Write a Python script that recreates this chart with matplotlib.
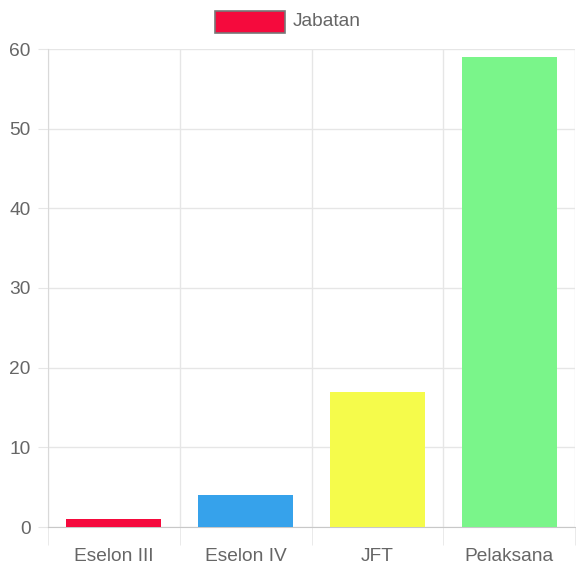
import matplotlib.pyplot as plt
from matplotlib.patches import Rectangle

plt.rcParams['font.family'] = ['Liberation Sans', 'DejaVu Sans']

categories = ['Eselon III', 'Eselon IV', 'JFT', 'Pelaksana']
values = [1, 4, 17, 59]
colors = ['#f50a3d', '#36a2eb', '#f5fb4b', '#7af58a']
yticks = [0, 10, 20, 30, 40, 50, 60]
series_label = 'Jabatan'

grid_c = '#e6e6e6'
text_c = '#666666'
fs = 13.8

fig = plt.figure(figsize=(5.76, 5.64), dpi=100)
ax = fig.add_axes([48/576, 1-527/564, 527/576, (527-49)/564])

x = range(len(categories))
ax.bar(x, values, width=0.72, color=colors, zorder=3)

ax.set_xlim(-0.5, len(categories) - 0.5)
ax.set_ylim(0, 60)
ax.set_yticks(yticks)
ax.set_xticks(list(x))
ax.set_xticklabels(categories)
ax.set_xticks([i - 0.5 for i in range(len(categories) + 1)], minor=True)

ax.grid(axis='y', color=grid_c, lw=1, zorder=0)
ax.grid(axis='x', which='minor', color=grid_c, lw=1, zorder=0)

ax.tick_params(axis='y', length=7.5, color=grid_c, labelcolor=text_c,
               labelsize=fs, pad=5)
ax.tick_params(axis='x', which='major', length=0, labelcolor=text_c,
               labelsize=fs, pad=15)
ax.tick_params(axis='x', which='minor', length=13, color=grid_c)

for s in ['top', 'right']:
    ax.spines[s].set_visible(False)
ax.spines['left'].set_color('#d9d9d9')
ax.spines['bottom'].set_color('#c8c8c8')

# legend drawn like the chart.js header
fig.patches.append(Rectangle((215/576, 1-33/564), 70/576, 22/564,
                             transform=fig.transFigure, facecolor=colors[0],
                             edgecolor='#777777', lw=1.2))
fig.text(293/576, 1-21/564, series_label, color=text_c, fontsize=fs,
         va='center', ha='left')

fig.savefig('out.png', dpi=100)
